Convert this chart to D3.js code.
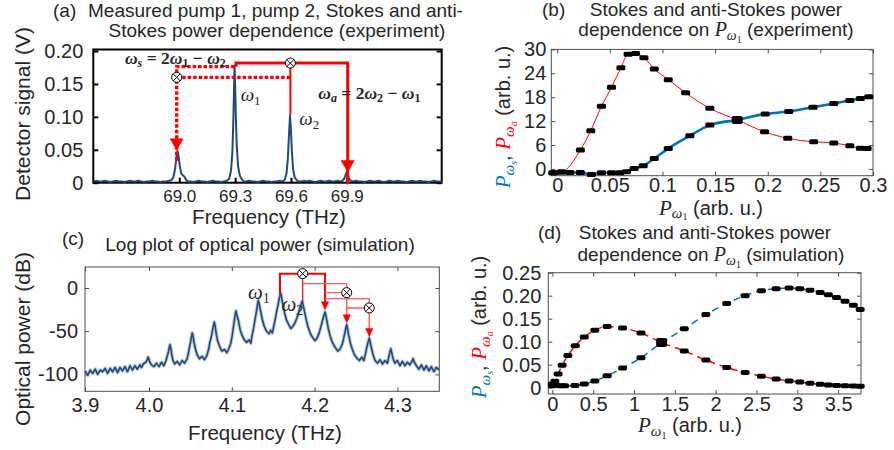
<!DOCTYPE html>
<html><head><meta charset="utf-8">
<script src="https://cdn.jsdelivr.net/npm/d3@7"></script>
<style>
body{margin:0;background:#fff}
svg{display:block}
text{font-family:"Liberation Sans",Arial,Helvetica,sans-serif;fill:#262626}
</style></head>
<body><svg id="chart" width="894" height="450"></svg>
<script>
// ================= DATA =================
// (a) measured spectrum: [frequency THz, detector signal V]
const aSpectrum = [
[68.540,.002],[68.555,.003],[68.570,.002],[68.585,.002],[68.600,.003],[68.615,.002],[68.630,.001],[68.645,.002],[68.660,.003],[68.675,.002],
[68.690,.002],[68.705,.001],[68.720,.002],[68.735,.003],[68.750,.002],[68.765,.002],[68.780,.003],[68.795,.002],[68.810,.001],[68.825,.002],
[68.840,.002],[68.855,.003],[68.870,.002],[68.885,.002],[68.900,.001],[68.915,.002],[68.930,.002],[68.945,.003],
[68.958,.004],[68.968,.008],[68.977,.020],[68.984,.037],[68.990,.048],[68.996,.041],[69.003,.025],[69.011,.014],[69.020,.011],[69.028,.009],[69.037,.004],[69.047,.002],
[69.060,.002],[69.075,.001],[69.090,.002],[69.105,.003],[69.120,.002],[69.135,.002],[69.150,.001],[69.165,.002],[69.180,.003],[69.195,.002],[69.210,.002],[69.225,.001],[69.240,.002],[69.255,.003],
[69.268,.006],[69.278,.018],[69.285,.045],[69.290,.090],[69.294,.140],[69.297,.178],[69.300,.150],[69.304,.100],[69.309,.055],[69.316,.025],[69.325,.011],[69.336,.005],[69.348,.002],
[69.360,.002],[69.375,.003],[69.390,.002],[69.405,.002],[69.420,.001],[69.435,.002],[69.450,.003],[69.465,.002],[69.480,.002],[69.495,.001],[69.510,.002],[69.525,.002],[69.540,.003],[69.555,.002],
[69.567,.005],[69.576,.014],[69.583,.035],[69.589,.070],[69.595,.102],[69.600,.080],[69.605,.048],[69.611,.022],[69.619,.009],[69.630,.004],[69.642,.002],
[69.655,.002],[69.670,.003],[69.685,.002],[69.700,.003],[69.715,.002],[69.730,.001],[69.745,.002],[69.760,.003],[69.775,.002],[69.790,.002],[69.805,.003],[69.820,.002],[69.835,.002],[69.850,.003],[69.865,.002],
[69.877,.003],[69.886,.006],[69.893,.011],[69.899,.016],[69.905,.012],[69.912,.006],[69.921,.003],
[69.935,.002],[69.950,.003],[69.965,.002],[69.980,.002],[69.995,.001],[70.010,.002],[70.025,.003],[70.040,.002],[70.055,.002],[70.070,.003],
[70.085,.002],[70.100,.001],[70.115,.002],[70.130,.003],[70.145,.002],[70.160,.002],[70.175,.003],[70.190,.002],[70.205,.002],[70.220,.001],
[70.235,.002],[70.250,.003],[70.265,.002],[70.280,.002],[70.295,.003],[70.310,.002],[70.325,.002],[70.340,.001],[70.355,.002],[70.370,.003],[70.385,.002],[70.400,.002],[70.410,.002]
];
const aFreqTicks = [69.0, 69.3, 69.6, 69.9];
const aSignalTicks = [0, 0.05, 0.10, 0.15, 0.20];

// (b) experiment: P_w1 vs Stokes / anti-Stokes power
const bAntiX = [-0.004,0.004,0.022,0.0319,0.042,0.0516,0.0605,0.0674,0.0744,0.0824,0.0922,0.1055,0.122,0.145,0.171,0.197,0.219,0.2436,0.2627,0.278,0.288,0.2944];
const bAntiY = [-0.95,-0.8,4.74,9.6,15.7,20.5,25.4,28.8,29.0,27.9,25.1,22.4,19.1,15.2,12.3,9.3,7.7,6.8,6.5,5.8,5.2,5.1];
const bStokesX = [-0.004,0.004,0.012,0.022,0.0325,0.042,0.0516,0.0595,0.0658,0.0731,0.0817,0.0922,0.1055,0.126,0.145,0.171,0.1976,0.22,0.243,0.2627,0.278,0.288,0.296];
const bStokesY = [-0.95,-0.8,-0.9,-0.9,-1.4,-0.95,-0.95,-0.95,-0.7,0.1,0.8,2.6,5.1,8.3,11.0,12.3,13.8,14.4,15.5,16.4,17.2,17.7,18.1];
const bXTicks = [0,0.05,0.1,0.15,0.2,0.25,0.3];
const bYTicks = [0,6,12,18,24,30];

// (c) simulated log spectrum: [frequency THz, power dB]
const cSpectrum = [
[3.9227,-96],[3.926,-101],[3.929,-95],[3.932,-99],[3.935,-94],[3.938,-100],[3.941,-95],[3.944,-97],[3.947,-93],[3.950,-99],[3.953,-93],[3.956,-97],
[3.959,-92],[3.962,-98],[3.965,-92],[3.968,-96],[3.971,-91],[3.974,-97],[3.977,-90],[3.980,-95],[3.983,-90],[3.986,-94],[3.989,-89],[3.991,-92],[3.993,-88],
[3.996,-86],[3.9975,-84],[3.9985,-81],[3.999,-80],[3.9997,-82],[4.001,-86],[4.003,-89],
[4.006,-91],[4.009,-87],[4.012,-91],[4.015,-86],[4.018,-90],
[4.0205,-84],[4.022,-79],[4.0234,-74],[4.0244,-69],[4.0254,-65.6],[4.0264,-70],[4.0274,-77],[4.029,-84],[4.031,-88],
[4.034,-85],[4.037,-89],[4.040,-84],[4.043,-87],[4.046,-82],
[4.0475,-76],[4.049,-68],[4.0503,-62],[4.0513,-56],[4.0523,-52],[4.0533,-56],[4.0543,-63],[4.056,-70],[4.058,-77],[4.061,-82],
[4.064,-79],[4.067,-83],[4.070,-78],
[4.072,-71],[4.0735,-63],[4.0754,-56],[4.0769,-48],[4.078,-43],[4.0789,-39.4],[4.0799,-44],[4.0809,-51],[4.0825,-60],[4.085,-67],[4.088,-73],
[4.091,-71],[4.094,-75],[4.097,-69],
[4.099,-63],[4.1005,-55],[4.1027,-40],[4.104,-31],[4.105,-26.6],[4.106,-31],[4.108,-38],[4.110,-48],[4.112,-54],[4.115,-60],
[4.118,-63],[4.121,-60],[4.123,-64],
[4.1245,-55],[4.126,-48],[4.128,-37],[4.1298,-27],[4.131,-19],[4.132,-14.3],[4.133,-18],[4.1345,-25],[4.1365,-35],[4.139,-44],[4.142,-50],
[4.145,-53],[4.147,-49],[4.149,-52],
[4.1505,-45],[4.152,-38],[4.154,-28],[4.156,-19],[4.1575,-11],[4.159,-5.8],[4.160,-10],[4.1615,-18],[4.1635,-28],[4.166,-37],[4.169,-43],
[4.1715,-47],[4.174,-44],
[4.1765,-40],[4.1785,-35],[4.1805,-29],[4.1825,-22],[4.184,-18],[4.185,-15.4],[4.186,-19],[4.1875,-26],[4.1895,-35],[4.192,-45],[4.195,-53],[4.198,-58],
[4.2005,-61],[4.203,-58],
[4.2055,-52],[4.2075,-45],[4.2095,-38],[4.2112,-32],[4.2126,-27.8],[4.2136,-32],[4.215,-39],[4.217,-49],[4.2195,-58],[4.222,-64],[4.225,-69],
[4.228,-73],[4.2305,-71],
[4.233,-66],[4.235,-59],[4.2365,-52],[4.2378,-46],[4.2388,-42.4],[4.2398,-47],[4.241,-54],[4.243,-63],[4.2455,-71],[4.248,-77],[4.251,-81],
[4.254,-84],[4.257,-80],[4.2595,-84],
[4.2615,-76],[4.263,-69],[4.2645,-63],[4.266,-57.9],[4.267,-62],[4.2685,-69],[4.2705,-77],[4.273,-84],
[4.276,-87],[4.279,-83],[4.282,-88],[4.285,-84],[4.288,-87],
[4.2895,-80],[4.291,-74],[4.292,-70.2],[4.293,-74],[4.2945,-81],[4.297,-87],
[4.300,-84],[4.303,-90],[4.306,-85],[4.309,-90],[4.312,-86],[4.315,-89],
[4.3175,-85],[4.319,-81.8],[4.3205,-86],[4.323,-90],
[4.326,-94],[4.329,-89],[4.332,-95],[4.335,-90],[4.338,-96],[4.341,-91],[4.344,-97],[4.347,-92],[4.3506,-95]
];
const cFreqTicks = [3.9227, 4.0, 4.1, 4.2, 4.3];
const cPowerTicks = [-100, -50, 0];

// (d) simulation: P_w1 vs Stokes / anti-Stokes power
const dAntiX = [0,0.03,0.07,0.12,0.19,0.28,0.39,0.52,0.67,0.86,1.085,1.338,1.615,1.88,2.135,2.36,2.56,2.74,2.90,3.03,3.155,3.28,3.38,3.48,3.585,3.686,3.77];
const dAntiY = [0.004,0.014,0.030,0.049,0.070,0.091,0.110,0.125,0.133,0.130,0.119,0.098,0.080,0.060,0.044,0.033,0.025,0.019,0.0146,0.0124,0.0095,0.0074,0.006,0.005,0.0044,0.0037,0.003];
const dStokesX = [0,0.04,0.1,0.15,0.276,0.39,0.52,0.67,0.86,1.085,1.338,1.615,1.88,2.135,2.36,2.56,2.74,2.90,3.03,3.155,3.28,3.38,3.48,3.585,3.686,3.77];
const dStokesY = [0.008,0.006,0.004,0.004,0.005,0.008,0.0146,0.026,0.043,0.065,0.098,0.128,0.159,0.183,0.200,0.211,0.215,0.217,0.215,0.212,0.207,0.202,0.196,0.188,0.179,0.170];
const dXTicks = [0,0.5,1,1.5,2,2.5,3,3.5];
const dYTicks = [0,0.05,0.10,0.15,0.20,0.25];

// ================= HELPERS =================
const svg = d3.select('#chart');
const RED = '#ff0000', BLUE = '#0072bd', SPEC = '#204a7a', SERIF = '"Liberation Serif","DejaVu Serif",serif';

function rich(t, parts){
  let shift = 0;
  parts.forEach(p => {
    const ts = t.append('tspan').text(p.t);
    const target = p.dy || 0;
    if (target !== shift){ ts.attr('dy', target - shift); shift = target; }
    if (p.fs) ts.attr('font-size', p.fs);
    if (p.ff) ts.attr('font-family', p.ff);
    if (p.it) ts.attr('font-style', 'italic');
    if (p.fill) ts.style('fill', p.fill);
    if (p.fw) ts.attr('font-weight', p.fw);
  });
  return t;
}

function axes(g, x, y, o){
  const [x0, x1] = x.range(), [y0, y1] = y.range();
  const bx = g.append('g').attr('transform', `translate(0,${y0})`)
    .call(d3.axisBottom(x).tickValues(o.xt).tickFormat(o.xf).tickSize(-o.tl).tickPadding(o.xp));
  const ly = g.append('g').attr('transform', `translate(${x0},0)`)
    .call(d3.axisLeft(y).tickValues(o.yt).tickFormat(o.yf).tickSize(-o.tl).tickPadding(o.yp));
  g.append('g').attr('transform', `translate(${x1},0)`)
    .call(d3.axisRight(y).tickValues(o.yt).tickFormat('').tickSize(-o.tl));
  if (o.top){
    g.append('g').attr('transform', `translate(0,${y1})`)
      .call(d3.axisTop(x).tickValues(o.xt).tickFormat('').tickSize(-o.tl));
  }
  g.selectAll('.domain').remove();
  g.selectAll('.tick line').attr('stroke', o.stroke).attr('stroke-width', o.tw);
  bx.selectAll('text').attr('font-size', o.xfs).attr('font-family', o.xff || null).style('fill', '#262626');
  ly.selectAll('text').attr('font-size', o.yfs).style('fill', '#262626');
  g.append('rect').attr('x', x0).attr('y', y1).attr('width', x1 - x0).attr('height', y0 - y1)
    .attr('fill', 'none').attr('stroke', o.stroke).attr('stroke-width', o.sw);
}

function otimes(g, cx, cy, r){
  g.append('circle').attr('cx', cx).attr('cy', cy).attr('r', r).attr('fill', '#fff').attr('stroke', '#000').attr('stroke-width', 1);
  const d = r * 0.7;
  g.append('path').attr('d', `M${cx-d},${cy-d}L${cx+d},${cy+d}M${cx-d},${cy+d}L${cx+d},${cy-d}`).attr('stroke', '#000').attr('stroke-width', 1);
}
function arrowHead(g, tipX, tipY, w, h, color){
  g.append('path').attr('d', `M${tipX},${tipY}L${tipX-w/2},${tipY-h}L${tipX+w/2},${tipY-h}Z`).attr('fill', color);
}

// ================= PANEL (a) =================
(function(){
  const g = svg.append('g');
  const x = d3.scaleLinear().domain([68.538, 70.41]).range([93.3, 441.7]);
  const y = d3.scaleLinear().domain([0, 0.2023]).range([182.7, 49.5]);
  axes(g, x, y, {xt: aFreqTicks, yt: aSignalTicks, xf: d3.format('.1f'), yf: d => d === 0 ? '0' : d.toFixed(2),
    tl: 5, xp: 7, yp: 10, stroke: '#000', sw: 2, tw: 2, xfs: 17, xff: '"DejaVu Serif",serif', yfs: 20, top: false});
  g.append('path').datum(aSpectrum).attr('fill', 'none').attr('stroke', SPEC).attr('stroke-width', 2)
    .attr('stroke-linejoin', 'round').attr('d', d3.line().x(d => x(d[0])).y(d => y(d[1])));

  // nonlinear mixing annotation
  const top = 0.1817, dot1 = 0.1763, dot2 = 0.160;
  const an = g.append('g');
  an.append('path').attr('d', `M${x(69.305)},${y(0.176)}V${y(top)}H${x(69.905)}V${y(0.016)+12}`)
    .attr('fill', 'none').attr('stroke', RED).attr('stroke-width', 3);
  arrowHead(an, x(69.905), y(0.016), 14, 12, RED);
  an.append('path').attr('d', `M${x(69.597)},${y(0.103)}V${y(top)}`).attr('stroke', RED).attr('stroke-width', 2);
  an.append('path').attr('d', `M${x(69.297)},${y(dot1)}H${x(68.986)}V${y(0.049)+12}M${x(68.986)},${y(dot2)}H${x(69.597)}`)
    .attr('fill', 'none').attr('stroke', RED).attr('stroke-width', 3.4).attr('stroke-dasharray', '3.5,2');
  arrowHead(an, x(68.986), y(0.049), 14, 12, RED);
  otimes(an, x(69.597), y(top), 5);
  otimes(an, x(68.986), y(dot2), 5);

  const lab = (tx, ty, parts) => rich(g.append('text').attr('x', tx).attr('y', ty), parts);
  const B = {ff: SERIF, fw: 'bold'};
  lab(x(68.708), y(0.1805), [
    {t:'ω',it:1,...B,fs:17.5},{t:'s',it:1,...B,fs:12,dy:3},{t:' = 2',...B,fs:17.5},{t:'ω',it:1,...B,fs:17.5},{t:'1',...B,fs:12,dy:3},
    {t:' − ',...B,fs:17.5},{t:'ω',it:1,...B,fs:17.5},{t:'2',...B,fs:12,dy:3}]);
  lab(x(69.747), y(0.127), [
    {t:'ω',it:1,...B,fs:17.5},{t:'a',it:1,...B,fs:12,dy:3},{t:' = 2',...B,fs:17.5},{t:'ω',it:1,...B,fs:17.5},{t:'2',...B,fs:12,dy:3},
    {t:' − ',...B,fs:17.5},{t:'ω',it:1,...B,fs:17.5},{t:'1',...B,fs:12,dy:3}]);
  lab(x(69.33), y(0.124), [{t:'ω',it:1,ff:SERIF,fs:19},{t:'1',ff:SERIF,fs:13,dy:4}]);
  lab(x(69.645), y(0.0875), [{t:'ω',it:1,ff:SERIF,fs:19},{t:'2',ff:SERIF,fs:13,dy:4}]);

  g.append('text').attr('x', 53).attr('y', 17).attr('font-size', 19).text('(a)');
  g.append('text').attr('x', 88).attr('y', 17).attr('font-size', 19).text('Measured pump 1, pump 2, Stokes and anti-');
  g.append('text').attr('x', 277).attr('y', 37).attr('font-size', 19).attr('text-anchor', 'middle').text('Stokes power dependence (experiment)');
  g.append('text').attr('x', 269).attr('y', 224).attr('font-size', 20.5).attr('text-anchor', 'middle').text('Frequency (THz)');
  g.append('text').attr('transform', 'translate(30,114) rotate(-90)').attr('font-size', 21).attr('text-anchor', 'middle').text('Detector signal (V)');
})();

// ================= PANEL (b) =================
(function(){
  const g = svg.append('g');
  const x = d3.scaleLinear().domain([-0.0056, 0.3]).range([551.3, 873]);
  const y = d3.scaleLinear().domain([-1.7, 30]).range([175.7, 49.4]);
  axes(g, x, y, {xt: bXTicks, yt: bYTicks, xf: d => String(d), yf: d => String(d),
    tl: 4, xp: 2, yp: 5, stroke: '#4d4d4d', sw: 1, tw: 1, xfs: 20, yfs: 20, top: true});
  const anti = bAntiX.map((v, i) => [v, bAntiY[i]]);
  const stokes = bStokesX.map((v, i) => [v, bStokesY[i]]);
  const line = d3.line().x(d => x(d[0])).y(d => y(d[1])).curve(d3.curveMonotoneX);
  g.append('path').datum(stokes).attr('fill', 'none').attr('stroke', BLUE).attr('stroke-width', 2.6).attr('d', line);
  g.append('path').datum(anti).attr('fill', 'none').attr('stroke', RED).attr('stroke-width', 1).attr('d', line);
  const pts = anti.concat(stokes);
  g.selectAll('rect.mk').data(pts).enter().append('rect').attr('class', 'mk')
    .attr('x', d => x(d[0]) - 4.5).attr('y', d => y(d[1]) - 2.5).attr('width', 9).attr('height', 5).attr('rx', 1.5).attr('fill', '#000');
  g.append('rect').attr('x', x(0.171) - 5.5).attr('y', y(12.3) - 4).attr('width', 11).attr('height', 8).attr('rx', 2).attr('fill', '#000');

  g.append('text').attr('x', 542).attr('y', 16).attr('font-size', 19).text('(b)');
  g.append('text').attr('x', 716).attr('y', 16).attr('font-size', 19).attr('text-anchor', 'middle').text('Stokes and anti-Stokes power');
  rich(g.append('text').attr('x', 716).attr('y', 36).attr('font-size', 19).attr('text-anchor', 'middle'), [
    {t:'dependence on '},{t:'P',it:1,ff:SERIF,fs:20},{t:'ω',it:1,ff:SERIF,fs:14,dy:4},{t:'1',ff:SERIF,fs:10,dy:7},{t:' (experiment)',dy:0}]);
  rich(g.append('text').attr('x', 711).attr('y', 215).attr('font-size', 20).attr('text-anchor', 'middle'), [
    {t:'P',it:1,ff:SERIF,fs:21},{t:'ω',it:1,ff:SERIF,fs:15,dy:2.5},{t:'1',ff:SERIF,fs:10,dy:5},{t:'  (arb. u.)',dy:0}]);
  rich(g.append('text').attr('transform', 'translate(510,117) rotate(-90)').attr('font-size', 20).attr('text-anchor', 'middle'), [
    {t:'P',it:1,ff:SERIF,fs:21,fill:BLUE},{t:'ω',it:1,ff:SERIF,fs:15,dy:4,fill:BLUE},{t:'s',it:1,ff:SERIF,fs:10,dy:7,fill:BLUE},
    {t:', ',dy:0},{t:'P',it:1,ff:SERIF,fs:21,fill:RED},{t:'ω',it:1,ff:SERIF,fs:15,dy:4,fill:RED},{t:'a',it:1,ff:SERIF,fs:10,dy:7,fill:RED},
    {t:'  (arb. u.)',dy:0}]);
})();

// ================= PANEL (c) =================
(function(){
  const g = svg.append('g');
  const x = d3.scaleLinear().domain([3.9227, 4.3506]).range([85, 439.3]);
  const y = d3.scaleLinear().domain([-119.6, 24.3]).range([391.3, 267]);
  axes(g, x, y, {xt: cFreqTicks, yt: cPowerTicks, xf: d3.format('.1f'), yf: d => String(d),
    tl: 4, xp: 7, yp: 7, stroke: '#4d4d4d', sw: 1, tw: 1, xfs: 20, yfs: 20, top: true});
  const ln = d3.line().x(d => x(d[0])).y(d => y(d[1]));
  g.append('path').datum(cSpectrum).attr('fill', 'none').attr('stroke', '#7f9dbf').attr('stroke-width', 3.6)
    .attr('stroke-opacity', 0.55).attr('stroke-linejoin', 'round').attr('d', ln);
  g.append('path').datum(cSpectrum).attr('fill', 'none').attr('stroke', SPEC).attr('stroke-width', 1.6)
    .attr('stroke-linejoin', 'round').attr('d', ln);

  const an = g.append('g');
  const PINK = '#ff5a5a';
  an.append('path').attr('d', `M${x(4.1582)},${y(-7)}V${y(16.6)}H${x(4.2126)}V${y(-26)-8}`).attr('fill','none').attr('stroke', RED).attr('stroke-width', 2);
  an.append('path').attr('d', `M${x(4.1856)},${y(-16)}V${y(16.6)}`).attr('stroke', RED).attr('stroke-width', 1.2);
  arrowHead(an, x(4.2126), y(-26), 8, 9, RED);
  an.append('path').attr('d', `M${x(4.1856)},${y(5)}H${x(4.2388)}V${y(-41)-8}M${x(4.2126)},${y(-5.4)}H${x(4.2388)}`).attr('fill','none').attr('stroke', PINK).attr('stroke-width', 1.4);
  arrowHead(an, x(4.2388), y(-41), 8, 9, RED);
  an.append('path').attr('d', `M${x(4.2126)},${y(-12.3)}H${x(4.266)}V${y(-57)-8}M${x(4.2388)},${y(-23.1)}H${x(4.266)}`).attr('fill','none').attr('stroke', PINK).attr('stroke-width', 1.4);
  arrowHead(an, x(4.266), y(-57), 8, 9, RED);
  otimes(an, x(4.1856), y(16.6), 5);
  otimes(an, x(4.2388), y(-5.4), 5);
  otimes(an, x(4.266), y(-23.1), 5);

  rich(g.append('text').attr('x', 248).attr('y', 299), [{t:'ω',it:1,ff:SERIF,fs:21},{t:'1',ff:SERIF,fs:14,dy:4}]);
  rich(g.append('text').attr('x', 281.5).attr('y', 311), [{t:'ω',it:1,ff:SERIF,fs:21},{t:'2',ff:SERIF,fs:14,dy:4}]);

  g.append('text').attr('x', 62).attr('y', 245).attr('font-size', 19).text('(c)');
  g.append('text').attr('x', 260).attr('y', 251).attr('font-size', 19).attr('text-anchor', 'middle').text('Log plot of optical power (simulation)');
  g.append('text').attr('x', 265).attr('y', 440).attr('font-size', 20.5).attr('text-anchor', 'middle').text('Frequency (THz)');
  g.append('text').attr('transform', 'translate(30,339) rotate(-90)').attr('font-size', 21).attr('text-anchor', 'middle').text('Optical power (dB)');
})();

// ================= PANEL (d) =================
(function(){
  const g = svg.append('g');
  const x = d3.scaleLinear().domain([-0.05, 3.78]).range([548.3, 861]);
  const y = d3.scaleLinear().domain([-0.0137, 0.25]).range([394, 272.7]);
  axes(g, x, y, {xt: dXTicks, yt: dYTicks, xf: d => String(d), yf: d => d === 0 ? '0' : d.toFixed(2),
    tl: 4, xp: 3, yp: 7, stroke: '#4d4d4d', sw: 1, tw: 1, xfs: 20, yfs: 20, top: true});
  const anti = dAntiX.map((v, i) => [v, dAntiY[i]]);
  const stokes = dStokesX.map((v, i) => [v, dStokesY[i]]);
  const line = d3.line().x(d => x(d[0])).y(d => y(d[1])).curve(d3.curveMonotoneX);
  g.append('path').datum(stokes).attr('fill', 'none').attr('stroke', BLUE).attr('stroke-width', 1.5).attr('stroke-dasharray', '7,5').attr('d', line);
  g.append('path').datum(anti).attr('fill', 'none').attr('stroke', RED).attr('stroke-width', 1.5).attr('stroke-dasharray', '7,5').attr('d', line);
  const pts = anti.concat(stokes);
  g.selectAll('rect.mk').data(pts).enter().append('rect').attr('class', 'mk')
    .attr('x', d => x(d[0]) - 4.5).attr('y', d => y(d[1]) - 2.5).attr('width', 9).attr('height', 5).attr('rx', 2).attr('fill', '#000');
  g.append('rect').attr('x', x(1.338) - 5.5).attr('y', y(0.098) - 4.5).attr('width', 11).attr('height', 9).attr('rx', 2).attr('fill', '#000');

  g.append('text').attr('x', 538).attr('y', 239).attr('font-size', 19).text('(d)');
  g.append('text').attr('x', 705).attr('y', 239).attr('font-size', 19).attr('text-anchor', 'middle').text('Stokes and anti-Stokes power');
  rich(g.append('text').attr('x', 711).attr('y', 261).attr('font-size', 19).attr('text-anchor', 'middle'), [
    {t:'dependence on '},{t:'P',it:1,ff:SERIF,fs:20},{t:'ω',it:1,ff:SERIF,fs:14,dy:4},{t:'1',ff:SERIF,fs:10,dy:7},{t:' (simulation)',dy:0}]);
  rich(g.append('text').attr('x', 690).attr('y', 432).attr('font-size', 20).attr('text-anchor', 'middle'), [
    {t:'P',it:1,ff:SERIF,fs:21},{t:'ω',it:1,ff:SERIF,fs:15,dy:4},{t:'1',ff:SERIF,fs:10,dy:7},{t:'  (arb. u.)',dy:0}]);
  rich(g.append('text').attr('transform', 'translate(486,327) rotate(-90)').attr('font-size', 20).attr('text-anchor', 'middle'), [
    {t:'P',it:1,ff:SERIF,fs:21,fill:BLUE},{t:'ω',it:1,ff:SERIF,fs:15,dy:4,fill:BLUE},{t:'s',it:1,ff:SERIF,fs:10,dy:7,fill:BLUE},
    {t:', ',dy:0},{t:'P',it:1,ff:SERIF,fs:21,fill:RED},{t:'ω',it:1,ff:SERIF,fs:15,dy:4,fill:RED},{t:'a',it:1,ff:SERIF,fs:10,dy:7,fill:RED},
    {t:'  (arb. u.)',dy:0}]);
})();
</script></body></html>
